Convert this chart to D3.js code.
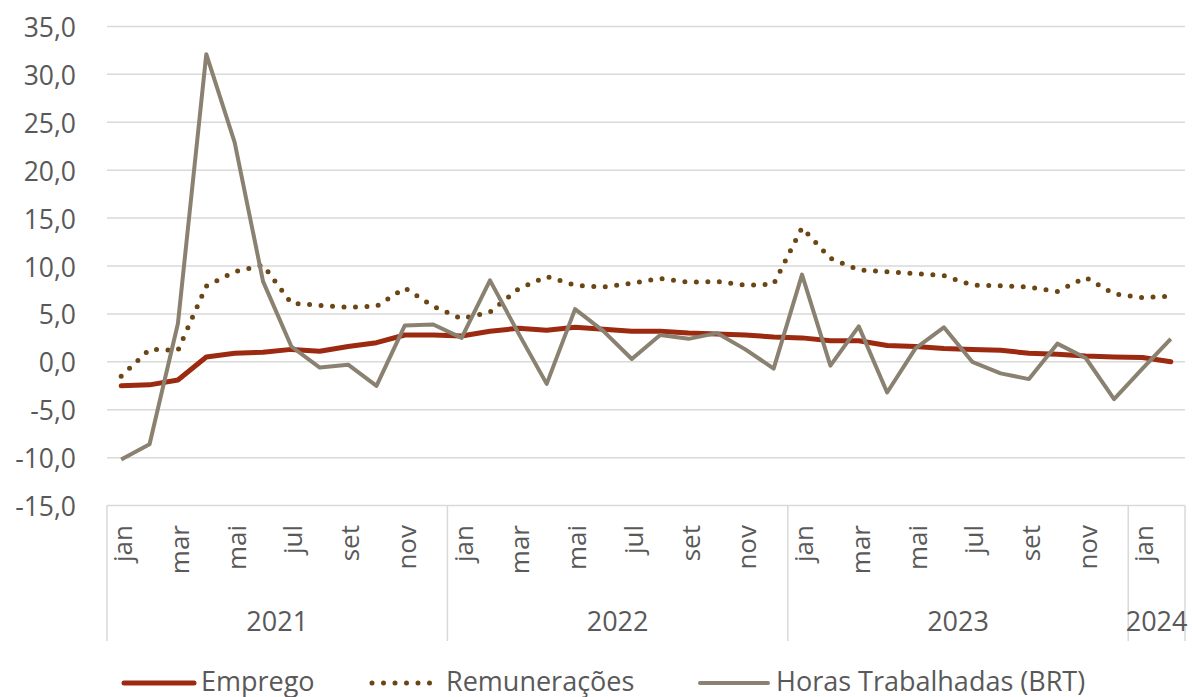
<!DOCTYPE html>
<html>
<head>
<meta charset="utf-8">
<script src="https://cdn.jsdelivr.net/npm/d3@7/dist/d3.min.js"></script>
<style>
  html, body { margin: 0; padding: 0; background: #fff; }
  svg text { font-family: "Open Sans", "Noto Sans", sans-serif; fill: #595959; }
</style>
</head>
<body>
<svg id="chart" width="1192" height="697"></svg>
<script>
const monthNames = ["jan","fev","mar","abr","mai","jun","jul","ago","set","out","nov","dez"];
const years = ["2021","2022","2023","2024"];
const monthsPerYear = [12, 12, 12, 2];

const emprego = [-2.5,-2.4,-1.9,0.5,0.9,1.0,1.3,1.1,1.6,2.0,2.8,2.8,
                 2.7,3.2,3.5,3.3,3.6,3.4,3.2,3.2,3.0,2.9,2.8,2.6,
                 2.5,2.2,2.2,1.7,1.6,1.4,1.3,1.2,0.9,0.8,0.6,0.5,
                 0.45,0.0];
const remuneracoes = [-1.5,1.3,1.2,7.9,9.4,10.1,6.1,5.9,5.7,5.8,7.7,5.8,
                      4.5,5.2,7.6,8.9,8.0,7.8,8.2,8.7,8.3,8.4,8.0,8.1,
                      14.0,10.8,9.6,9.4,9.2,9.0,8.0,7.95,7.8,7.35,8.8,7.1,
                      6.7,6.85];
const horas = [-10.2,-8.6,4.0,32.1,22.9,8.4,1.6,-0.6,-0.3,-2.5,3.8,3.9,
               2.5,8.5,3.0,-2.3,5.5,3.2,0.3,2.8,2.4,3.0,1.3,-0.7,
               9.1,-0.4,3.7,-3.2,1.4,3.6,0.0,-1.2,-1.8,1.9,0.4,-3.9,
               -0.7,2.4];
const yTicks = [-15,-10,-5,0,5,10,15,20,25,30,35];

const seriesNames = ["Emprego", "Remunerações", "Horas Trabalhadas (BRT)"];

(function () {
const cats = [];
years.forEach((yr, yi) => {
  for (let m = 0; m < monthsPerYear[yi]; m++) cats.push({year: yr, month: monthNames[m], m: m, key: yr + "-" + m});
});

const svg = d3.select("#chart");
const pLeft = 107, pRight = 1185, pTop = 26.4, pBottom = 505.6;

const x = d3.scaleBand().domain(cats.map(c => c.key)).range([pLeft, pRight]).padding(0);
const y = d3.scaleLinear().domain([-15, 35]).range([pBottom, pTop]);
const locale = d3.formatLocale({decimal: ",", thousands: ".", grouping: [3], currency: ["R$", ""], minus: "-"});
const fmt = locale.format(".1f");

// gridlines
svg.append("g").selectAll("line").data(yTicks).join("line")
  .attr("x1", pLeft).attr("x2", pRight)
  .attr("y1", d => y(d)).attr("y2", d => y(d))
  .attr("stroke", "#d9d9d9").attr("stroke-width", 1.5);

// y labels
svg.append("g").selectAll("text").data(yTicks).join("text")
  .attr("x", 76).attr("y", d => y(d) + 0.5)
  .attr("text-anchor", "end").attr("dominant-baseline", "central")
  .style("font-size", "26.5px")
  .text(d => fmt(d));

// category axis separators
const axisBottom = 641;
const sepIdx = [0];
let acc = 0;
monthsPerYear.forEach(n => { acc += n; sepIdx.push(acc); });
svg.append("g").selectAll("line").data(sepIdx).join("line")
  .attr("x1", d => d < cats.length ? x(cats[d].key) : pRight)
  .attr("x2", d => d < cats.length ? x(cats[d].key) : pRight)
  .attr("y1", pBottom).attr("y2", axisBottom)
  .attr("stroke", "#d9d9d9").attr("stroke-width", 1.5);

// month labels
svg.append("g").selectAll("text").data(cats.filter(c => c.m % 2 === 0)).join("text")
  .attr("transform", d => `translate(${x(d.key) + x.bandwidth() / 2 + 1},525) rotate(-90)`)
  .attr("text-anchor", "end").attr("dominant-baseline", "central")
  .style("font-size", "26px")
  .text(d => d.month);

// year labels
let start = 0;
years.forEach((yr, yi) => {
  const a = x(cats[start].key);
  const endIdx = start + monthsPerYear[yi];
  const b = endIdx < cats.length ? x(cats[endIdx].key) : pRight;
  svg.append("text").attr("x", (a + b) / 2).attr("y", 620.5)
    .attr("text-anchor", "middle").attr("dominant-baseline", "central")
    .style("font-size", "27px").text(yr);
  start = endIdx;
});

// lines
const line = data => d3.line()
  .x((d, i) => x(cats[i].key) + x.bandwidth() / 2)
  .y(d => y(d))(data);

const styles = [
  {data: emprego, color: "#9c2a10", width: 5, dash: null, cap: "round"},
  {data: remuneracoes, color: "#6b4614", width: 5, dash: "0,11.5", cap: "round"},
  {data: horas, color: "#8b8170", width: 4, dash: null, cap: "butt"}
];
styles.forEach(s => {
  svg.append("path").attr("d", line(s.data))
    .attr("fill", "none").attr("stroke", s.color).attr("stroke-width", s.width)
    .attr("stroke-linejoin", "round").attr("stroke-linecap", s.cap)
    .attr("stroke-dasharray", s.dash);
});

// legend
const legendY = 680;
const legendItems = [
  {x1: 124, x2: 194, tx: 201},
  {x1: 372, x2: 434, tx: 446},
  {x1: 700, x2: 768, tx: 776}
];
legendItems.forEach((it, i) => {
  const s = styles[i];
  svg.append("line").attr("x1", it.x1).attr("x2", it.x2).attr("y1", legendY + 3).attr("y2", legendY + 3)
    .attr("stroke", s.color).attr("stroke-width", s.width).attr("stroke-linecap", "round")
    .attr("stroke-dasharray", s.dash);
  svg.append("text").attr("x", it.tx).attr("y", legendY).attr("dominant-baseline", "central")
    .style("font-size", "27px").text(seriesNames[i]);
});
})();
</script>
</body>
</html>
